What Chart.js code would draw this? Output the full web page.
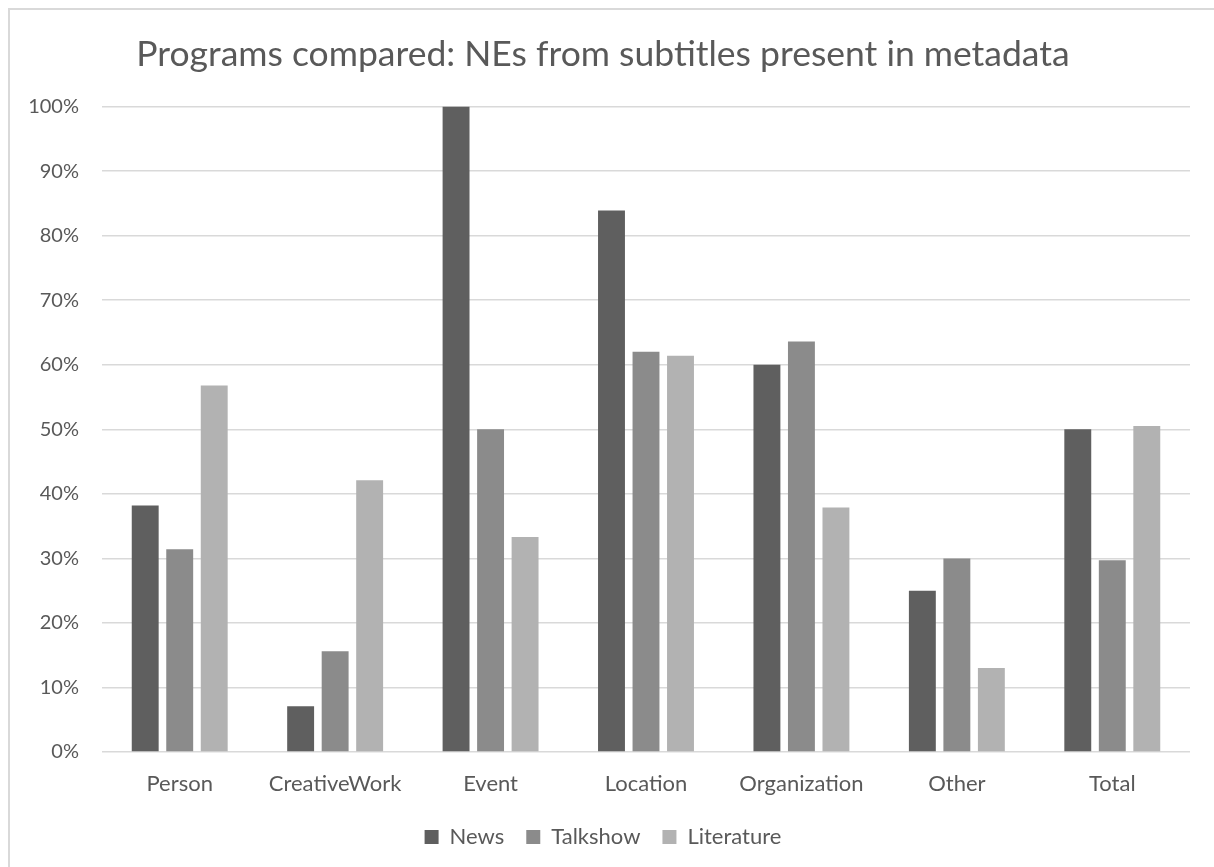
<!DOCTYPE html>
<html>
<head>
<meta charset="utf-8">
<script src="https://cdn.jsdelivr.net/npm/chart.js@4/dist/chart.umd.min.js"></script>
<style>
  html, body { margin: 0; padding: 0; background: #ffffff; overflow: hidden; }
  canvas { display: block; }
</style>
</head>
<body>
<canvas id="chart" width="1214" height="867"></canvas>
<script>
// Share of named entities from subtitles that also appear in program metadata
const categories = ['Person', 'CreativeWork', 'Event', 'Location', 'Organization', 'Other', 'Total'];
const newsValues = [38.2, 7.1, 100, 83.9, 60.0, 25.0, 50.0];
const talkshowValues = [31.4, 15.6, 50.0, 62.0, 63.6, 30.0, 29.7];
const literatureValues = [56.8, 42.1, 33.3, 61.4, 37.9, 13.0, 50.5];
const yTicks = [0, 10, 20, 30, 40, 50, 60, 70, 80, 90, 100];

const textColor = '#595959';
const fontFamily = 'Lato, "Open Sans", "Liberation Sans", sans-serif';

const seriesDefs = [
  { label: 'News', data: newsValues, color: '#5f5f5f' },
  { label: 'Talkshow', data: talkshowValues, color: '#8b8b8b' },
  { label: 'Literature', data: literatureValues, color: '#b2b2b2' }
];

// Light outline along the left and top edges of the chart box
const chartFrame = {
  id: 'chartFrame',
  beforeDraw(chart) {
    const ctx = chart.ctx;
    ctx.save();
    ctx.fillStyle = '#ffffff';
    ctx.fillRect(0, 0, chart.width, chart.height);
    ctx.strokeStyle = '#d9d9d9';
    ctx.lineWidth = 2;
    ctx.beginPath();
    ctx.moveTo(9, chart.height);
    ctx.lineTo(9, 9);
    ctx.lineTo(chart.width, 9);
    ctx.stroke();
    ctx.restore();
  }
};

new Chart(document.getElementById('chart'), {
  type: 'bar',
  data: {
    labels: categories,
    datasets: seriesDefs.map(s => ({
      label: s.label,
      data: s.data,
      backgroundColor: s.color,
      borderWidth: 0,
      barPercentage: 0.78,
      categoryPercentage: 0.666
    }))
  },
  plugins: [chartFrame],
  options: {
    responsive: false,
    animation: false,
    layout: { padding: { left: 16, right: 24, top: 0, bottom: 9 } },
    plugins: {
      title: {
        display: true,
        text: 'Programs compared: NEs from subtitles present in metadata',
        color: textColor,
        font: { family: fontFamily, size: 35.5, weight: 'normal' },
        padding: { top: 33, bottom: 31 }
      },
      legend: {
        position: 'bottom',
        labels: {
          color: textColor,
          font: { family: fontFamily, size: 22 },
          boxWidth: 14,
          boxHeight: 14,
          padding: 22
        }
      },
      tooltip: { enabled: false }
    },
    scales: {
      x: {
        grid: { display: false, drawTicks: false },
        border: { display: false },
        ticks: {
          color: textColor,
          font: { family: fontFamily, size: 22 },
          padding: 19,
          maxRotation: 0
        },
        afterFit(scale) { scale.height = 52; }
      },
      y: {
        min: 0,
        max: 100,
        afterBuildTicks(scale) { scale.ticks = yTicks.map(v => ({ value: v })); },
        grid: { color: '#d9d9d9', lineWidth: 1.5, drawTicks: false },
        border: { display: false },
        ticks: {
          color: textColor,
          font: { family: fontFamily, size: 20 },
          padding: 23,
          callback: v => v + '%'
        },
        afterFit(scale) { scale.width = 86; }
      }
    }
  }
});
</script>
</body>
</html>
